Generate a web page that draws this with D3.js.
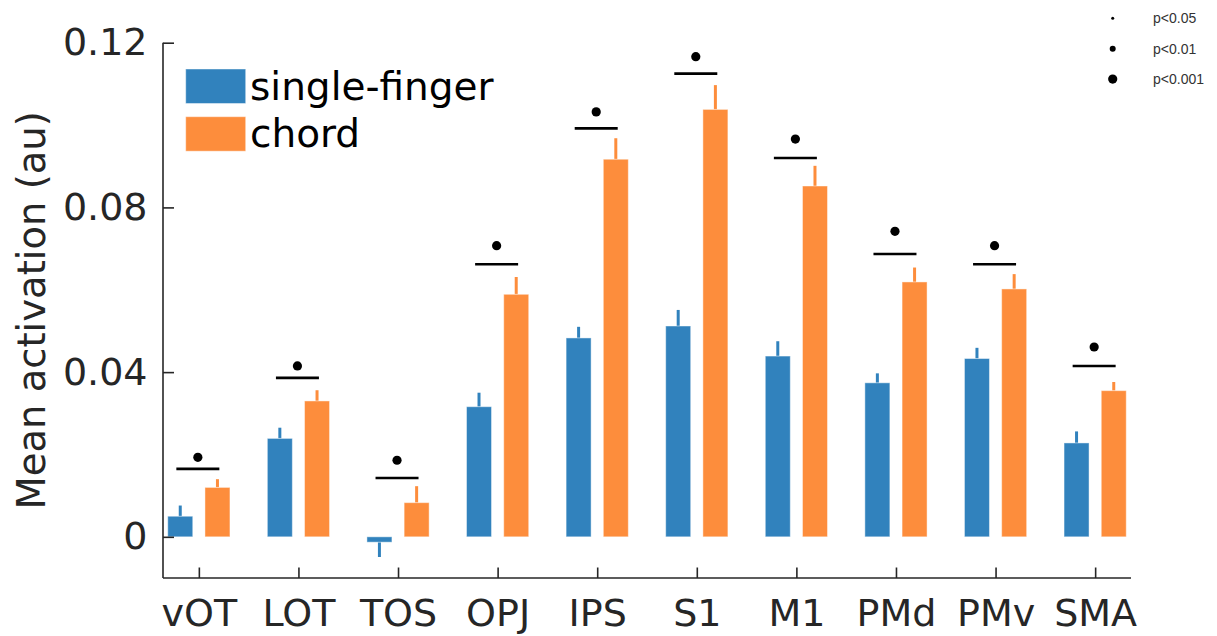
<!DOCTYPE html>
<html>
<head>
<meta charset="utf-8">
<script src="https://cdn.jsdelivr.net/npm/d3@7"></script>
<style>
  body { margin: 0; background: #fff; }
  svg { display: block; }
</style>
</head>
<body>
<svg id="chart"></svg>
<script>
const categories = ["vOT", "LOT", "TOS", "OPJ", "IPS", "S1", "M1", "PMd", "PMv", "SMA"];
const singleFinger = [0.0050, 0.0239, -0.0013, 0.0316, 0.0483, 0.0512, 0.0439, 0.0374, 0.0433, 0.0228];
const singleFingerErr = [0.0026, 0.0026, 0.0036, 0.0034, 0.0027, 0.0039, 0.0036, 0.0023, 0.0026, 0.0028];
const chord = [0.0120, 0.0330, 0.0083, 0.0589, 0.0917, 0.1038, 0.0852, 0.0619, 0.0602, 0.0355];
const chordErr = [0.0020, 0.0026, 0.0040, 0.0042, 0.0051, 0.0059, 0.0049, 0.0035, 0.0036, 0.0021];
// significance bar height and marker height per region
const sigLine = [0.0165, 0.0386, 0.0143, 0.0662, 0.0992, 0.1125, 0.0920, 0.0687, 0.0662, 0.0415];
const sigDot = [0.0193, 0.0415, 0.0186, 0.0707, 0.1032, 0.1166, 0.0966, 0.0742, 0.0707, 0.0461];
const sigLevel = ["p<0.001", "p<0.001", "p<0.001", "p<0.001", "p<0.001", "p<0.001", "p<0.001", "p<0.001", "p<0.001", "p<0.001"];
const pLevels = ["p<0.05", "p<0.01", "p<0.001"];
const seriesNames = ["single-finger", "chord"];
const yTicks = [0, 0.04, 0.08, 0.12];
const yTickLabels = ["0", "0.04", "0.08", "0.12"];

const width = 1217, height = 636;
const plotLeft = 163, plotRight = 1131, plotTop = 42.7, plotBottom = 578;
const blue = "#3182bd", orange = "#fd8d3c", ink = "#262626";
const font = "'DejaVu Sans', sans-serif";

const svg = d3.select("#chart")
    .attr("width", width)
    .attr("height", height);

const x = d3.scalePoint()
    .domain(categories)
    .range([plotLeft, plotRight])
    .padding(0.36);

const y = d3.scaleLinear()
    .domain([-0.01, 0.12])
    .range([plotBottom, plotTop]);

const barW = 25, offset = 18.6;

const series = [
    {name: seriesNames[0], values: singleFinger, err: singleFingerErr, color: blue, dx: -offset},
    {name: seriesNames[1], values: chord, err: chordErr, color: orange, dx: offset}
];

for (const s of series) {
    const g = svg.append("g");
    categories.forEach((c, i) => {
        const v = s.values[i];
        const cx = x(c) + s.dx;
        // error bar points away from zero
        const tip = v >= 0 ? v + s.err[i] : v - s.err[i];
        g.append("line")
            .attr("x1", cx).attr("x2", cx)
            .attr("y1", y(v)).attr("y2", y(tip))
            .style("stroke", s.color)
            .style("stroke-width", 3);
        g.append("rect")
            .attr("x", cx - barW / 2)
            .attr("width", barW)
            .attr("y", Math.min(y(v), y(0)))
            .attr("height", Math.abs(y(v) - y(0)))
            .style("fill", s.color)
            .style("stroke", "rgba(255,255,255,0.45)")
            .style("stroke-width", 1);
    });
}

const dotR = d3.scaleOrdinal().domain(pLevels).range([1.5, 3, 4.6]);

categories.forEach((c, i) => {
    const cx = x(c) - 1;
    svg.append("line")
        .attr("x1", cx - 21.5).attr("x2", cx + 21.5)
        .attr("y1", y(sigLine[i])).attr("y2", y(sigLine[i]))
        .style("stroke", "#000")
        .style("stroke-width", 2.6);
    svg.append("circle")
        .attr("cx", cx)
        .attr("cy", y(sigDot[i]))
        .attr("r", dotR(sigLevel[i]))
        .style("fill", "#000");
});

// axes
const yAxis = d3.axisLeft(y)
    .tickValues(yTicks)
    .tickFormat((d, i) => yTickLabels[i])
    .tickSizeInner(-11)
    .tickSizeOuter(0)
    .tickPadding(15);

const yg = svg.append("g")
    .attr("transform", `translate(${plotLeft},0)`)
    .call(yAxis);
yg.select(".domain").attr("d", `M0,${plotBottom}V${plotTop}`);

const xAxis = d3.axisBottom(x)
    .tickSizeInner(-10.5)
    .tickSizeOuter(0)
    .tickPadding(22);

const xg = svg.append("g")
    .attr("transform", `translate(0,${plotBottom})`)
    .call(xAxis);
xg.select(".domain").attr("d", `M${plotLeft},0H${plotRight}`);

svg.selectAll(".domain, .tick line")
    .style("stroke", ink)
    .style("stroke-width", 1.6);
yg.selectAll(".tick text")
    .attr("x", -15.5)
    .style("font-family", font)
    .style("font-size", "38px")
    .style("fill", ink);
xg.selectAll(".tick text")
    .attr("y", 21)
    .style("font-family", font)
    .style("font-size", "38px")
    .style("fill", ink);

svg.append("text")
    .attr("transform", `translate(45,${(plotTop + plotBottom) / 2}) rotate(-90)`)
    .attr("text-anchor", "middle")
    .style("font-family", font)
    .style("font-size", "38.5px")
    .style("fill", ink)
    .text("Mean activation (au)");

// series legend
const legend = svg.append("g");
series.forEach((s, i) => {
    const ly = 69 + i * 47.7;
    legend.append("rect")
        .attr("x", 185.7).attr("y", ly)
        .attr("width", 60).attr("height", 34.5)
        .style("fill", s.color)
        .style("stroke", "rgba(255,255,255,0.45)")
        .style("stroke-width", 1);
    legend.append("text")
        .attr("x", 250)
        .attr("y", ly + 30.5)
        .style("font-family", font)
        .style("font-size", "39px")
        .style("fill", "#000")
        .text(s.name);
});

// p-value legend
pLevels.forEach((p, i) => {
    const ly = 18.3 + i * 30.4;
    svg.append("circle")
        .attr("cx", 1112.7).attr("cy", ly)
        .attr("r", dotR(p))
        .style("fill", "#000");
    svg.append("text")
        .attr("x", 1153)
        .attr("y", ly + 5)
        .style("font-family", "'Liberation Sans', Arial, sans-serif")
        .style("font-size", "14px")
        .style("fill", "#333")
        .text(p);
});
</script>
</body>
</html>
